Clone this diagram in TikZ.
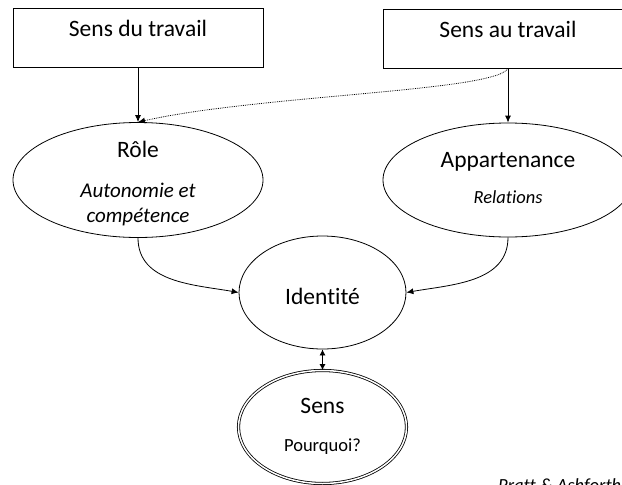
\documentclass[tikz,border=0pt]{standalone}
\usepackage{fontspec}
\setmainfont{Carlito}[Ligatures=NoCommon]
\usepackage{tikz}
\usetikzlibrary{positioning,shapes,arrows,arrows.meta}

\tikzset{
  boite/.style={draw=black, line width=0.8pt, rectangle, minimum width=250pt,
    text height=28.7pt, text depth=30.3pt, font=\fontsize{23.5}{28}\selectfont},
  bulle/.style={draw=black, line width=0.8pt, ellipse},
  titre/.style={anchor=base, font=\fontsize{23.5}{28}\selectfont},
  detail/.style={anchor=base, font=\fontsize{21}{25}\selectfont\itshape},
  note/.style={anchor=base, font=\fontsize{18.5}{22}\selectfont},
  fleche/.style={line width=0.8pt, -{Latex[length=7pt,width=6pt]}}
}

\begin{document}
\begin{tikzpicture}[x=1pt,y=1pt]
\tikzstyle{every node}+=[inner sep=0pt]
\clip (0,0) rectangle (622,-485);
% boites du haut
\node [boite] (dutravail) at (138,-37.5) {Sens du travail};
\node [boite] (autravail) at (508,-38.5) {Sens au travail};
% bulles
\node [bulle, minimum width=250pt, minimum height=115pt] (role) at (138,-180) {};
\node [bulle, minimum width=250pt, minimum height=114pt] (appart) at (508,-180) {};
\node [bulle, minimum width=167pt, minimum height=113pt] (identite) at (322.5,-292.5) {};
\node [bulle, double, double distance=1.5pt, minimum width=168pt, minimum height=113pt] (sens) at (322.5,-427) {};
% textes
\node [titre] (roletitre) at (138,-157) {Rôle};
\node [detail] (roleauto) at (138,-197) {Autonomie et};
\node [detail] (rolecomp) at (138,-222) {compétence};
\node [titre] (apparttitre) at (508,-167) {Appartenance};
\node [note] (appartrel) at (508,-203) {\itshape Relations};
\node [titre] (identitetitre) at (322.5,-304) {Identité};
\node [titre] (senstitre) at (322.5,-413) {Sens};
\node [note] (pourquoi) at (322.5,-451) {Pourquoi?};
\node [note, anchor=base west] (source) at (498,-491) {\itshape Pratt \& Ashforth};
% fleches
\draw [fleche] (dutravail.south) -- (role.north);
\draw [fleche] (autravail.south) -- (appart.north);
\draw [fleche, densely dotted] (autravail.south) .. controls +(-12,-23) and +(120,27) .. (role.north);
\draw [fleche] (role.south) to[out=-90,in=170] (identite.west);
\draw [fleche] (appart.south) to[out=-90,in=10] (identite.east);
\draw [line width=0.8pt, {Latex[length=6pt,width=6pt]}-{Latex[length=6pt,width=6pt]}] (identite.south) -- (sens.north);
\end{tikzpicture}
\end{document}
